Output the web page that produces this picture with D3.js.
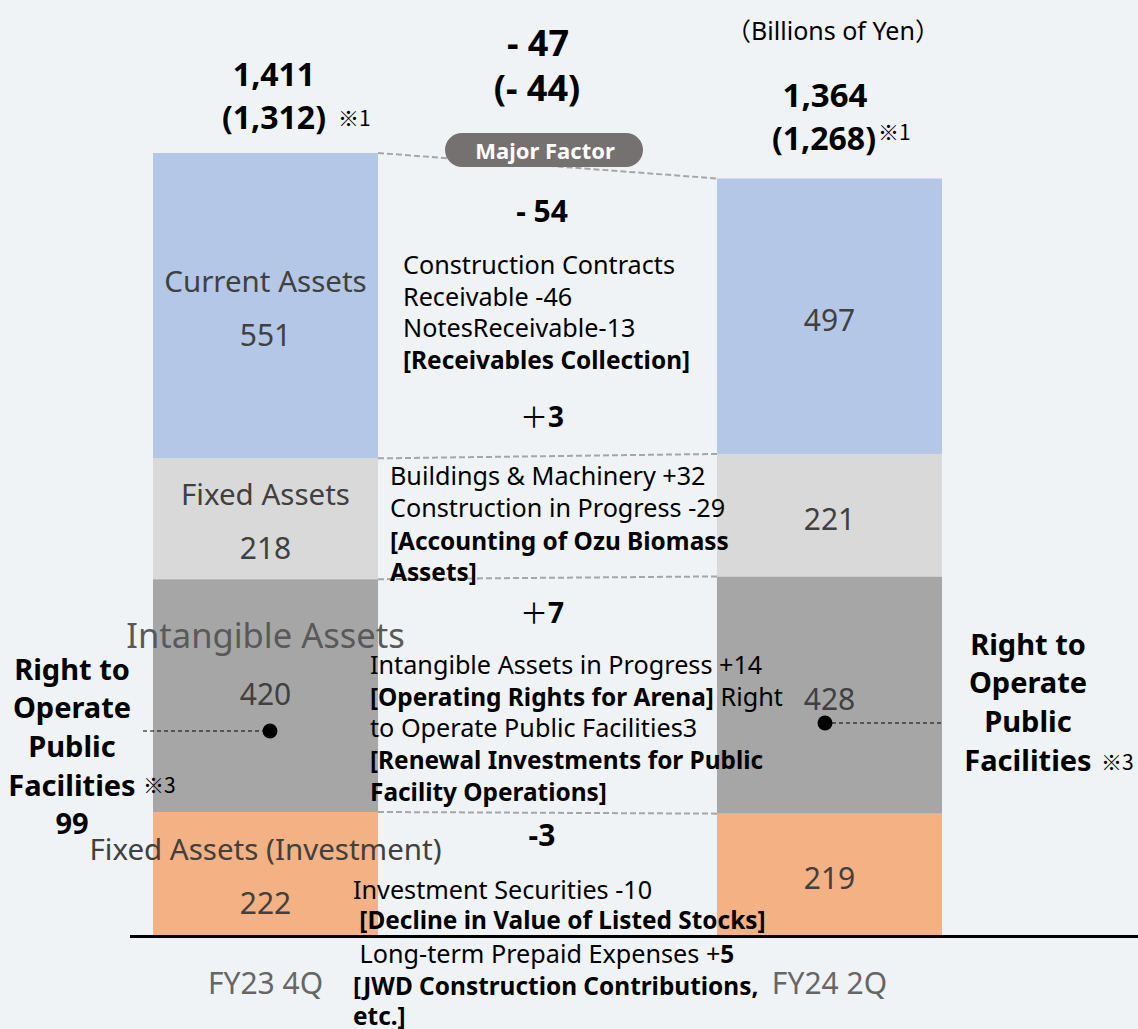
<!DOCTYPE html>
<html>
<head>
<meta charset="utf-8">
<script src="https://cdn.jsdelivr.net/npm/d3@7"></script>
<style>
  body { margin: 0; background: #eff3f5; }
  svg { display: block; font-family: "Noto Sans", "Open Sans", sans-serif; }
</style>
</head>
<body>
<div id="vis"></div>
<script>
// data
const PERIODS = ["FY23 4Q", "FY24 2Q"];
const CATEGORIES = ["Fixed Assets (Investment)", "Intangible Assets", "Fixed Assets", "Current Assets"]; // bottom -> top
const FY23_VALUES = [222, 420, 218, 551];
const FY24_VALUES = [219, 428, 221, 497];
const COLORS = ["#f4b183", "#a6a6a6", "#d9d9d9", "#b4c7e7"];
const TOTALS = ["1,411", "1,364"];
const TOTALS_ADJ = ["(1,312)", "(1,268)"];
const DIFF_TOTAL = ["- 47", "(- 44)"];
const DIFF_BY_CAT = ["-3", "＋7", "＋3", "- 54"]; // bottom -> top
const RIGHT_TO_OPERATE = "99";

// frame
const FRAME_WIDTH = 1138;
const FRAME_HEIGHT = 1029;
const BASE_Y = 935;
const TOP_Y = 153;
const CJK = "'Noto Sans CJK JP', 'Noto Sans', sans-serif";

const svg = d3.select("#vis")
  .append("svg")
  .attr("width", FRAME_WIDTH)
  .attr("height", FRAME_HEIGHT);

svg.append("rect").attr("width", FRAME_WIDTH).attr("height", FRAME_HEIGHT).attr("fill", "#eff3f5");

const rows = PERIODS.map((p, i) => {
  const vals = i === 0 ? FY23_VALUES : FY24_VALUES;
  const r = { period: p };
  CATEGORIES.forEach((c, j) => r[c] = vals[j]);
  return r;
});

const series = d3.stack().keys(CATEGORIES)(rows);

const X = d3.scaleBand().domain(PERIODS).range([153, 942]).paddingInner(0.601);
const Y = d3.scaleLinear().domain([0, d3.sum(FY23_VALUES)]).range([BASE_Y, TOP_Y]);
const COLOR = d3.scaleOrdinal().domain(CATEGORIES).range(COLORS);

// bars
svg.append("g").selectAll("g")
  .data(series)
  .join("g")
  .attr("fill", d => COLOR(d.key))
  .selectAll("rect")
  .data(d => d)
  .join("rect")
  .attr("x", d => X(d.data.period))
  .attr("y", d => Y(d[1]))
  .attr("width", X.bandwidth())
  .attr("height", d => Y(d[0]) - Y(d[1]));

// dashed connectors between bars at each segment boundary
const leftEdge = X(PERIODS[0]) + X.bandwidth();
const rightEdge = X(PERIODS[1]);
svg.append("g").selectAll("line")
  .data(series)
  .join("line")
  .attr("x1", leftEdge)
  .attr("x2", rightEdge)
  .attr("y1", d => Y(d[0][1]))
  .attr("y2", d => Y(d[1][1]))
  .attr("stroke", "#a6a6a6")
  .attr("stroke-width", 2)
  .attr("stroke-dasharray", "6,3");

// axis line
svg.append("line")
  .attr("x1", 130).attr("x2", FRAME_WIDTH)
  .attr("y1", BASE_Y + 1.5).attr("y2", BASE_Y + 1.5)
  .attr("stroke", "#000").attr("stroke-width", 3);

// x labels
svg.append("g").selectAll("text")
  .data(PERIODS)
  .join("text")
  .attr("x", d => X(d) + X.bandwidth() / 2)
  .attr("y", 982)
  .attr("text-anchor", "middle")
  .attr("dominant-baseline", "central")
  .attr("font-size", 30)
  .attr("fill", "#666666")
  .text(d => d);

// segment labels
series.forEach((s) => {
  s.forEach((d, i) => {
    const cx = X(d.data.period) + X.bandwidth() / 2;
    const cy = (Y(d[0]) + Y(d[1])) / 2;
    const isIntang = s.key === "Intangible Assets";
    if (i === 0) {
      svg.append("text")
        .attr("x", cx).attr("y", isIntang ? cy - 61 : cy - 25)
        .attr("text-anchor", "middle").attr("dominant-baseline", "central")
        .attr("font-size", isIntang ? 34.5 : 29.5)
        .attr("fill", isIntang ? "#595959" : "#404040")
        .text(s.key);
    }
    svg.append("text")
      .attr("x", cx).attr("y", i === 0 ? (isIntang ? cy - 2 : cy + 29) : cy + 3)
      .attr("text-anchor", "middle").attr("dominant-baseline", "central")
      .attr("font-size", 30)
      .attr("fill", "#404040")
      .text(d[1] - d[0]);
  });
});

// totals above bars, notes placed right after the measured text
function boldText(cx, y, str, size) {
  return svg.append("text")
    .attr("x", cx).attr("y", y)
    .attr("text-anchor", "middle").attr("dominant-baseline", "central")
    .attr("font-size", size).attr("font-weight", "bold").attr("fill", "#000")
    .text(str);
}
function note(t, gap, y, str) {
  const b = t.node().getBBox();
  svg.append("text")
    .attr("x", b.x + b.width + gap).attr("y", y)
    .attr("dominant-baseline", "central")
    .attr("font-size", 21).attr("fill", "#000")
    .style("font-family", CJK)
    .text(str);
}
boldText(274, 73, TOTALS[0], 32);
note(boldText(274, 116, TOTALS_ADJ[0], 32), 12, 117, "※1");
boldText(825, 94, TOTALS[1], 33);
note(boldText(824, 137, TOTALS_ADJ[1], 32), 2, 131, "※1");
boldText(538, 42, DIFF_TOTAL[0], 36);
boldText(537, 87, DIFF_TOTAL[1], 36);

const unit = svg.append("text")
  .attr("x", 833).attr("y", 30)
  .attr("text-anchor", "middle").attr("dominant-baseline", "central")
  .attr("font-size", 25).attr("fill", "#000");
unit.append("tspan").style("font-family", CJK).text("（");
unit.append("tspan").text("Billions of Yen");
unit.append("tspan").style("font-family", CJK).text("）");

// major factor pill
svg.append("rect")
  .attr("x", 445).attr("y", 133).attr("width", 198).attr("height", 34)
  .attr("rx", 17).attr("fill", "#767171");
svg.append("text")
  .attr("x", 545).attr("y", 150)
  .attr("text-anchor", "middle").attr("dominant-baseline", "central")
  .attr("font-size", 22).attr("font-weight", "bold").attr("fill", "#fff")
  .text("Major Factor");

// per-category differences
const DIFF_Y = [834, 612, 416, 210];
DIFF_BY_CAT.forEach((d, i) => {
  const t = svg.append("text")
    .attr("x", 542).attr("y", DIFF_Y[i])
    .attr("text-anchor", "middle").attr("dominant-baseline", "central")
    .attr("font-size", 30).attr("font-weight", "bold").attr("fill", "#000");
  if (d[0] === "＋") {
    t.attr("font-size", 28);
    t.append("tspan").attr("font-weight", "normal").style("font-family", CJK).text("＋");
    t.append("tspan").text(d.slice(1));
  } else t.text(d);
});

// factor descriptions: [text, bold]
const FACTORS_CURRENT = [
  [["Construction Contracts", 0]],
  [["Receivable -46", 0]],
  [["NotesReceivable-13", 0]],
  [["[Receivables Collection]", 1]]
];
const FACTORS_FIXED = [
  [["Buildings & Machinery +32", 0]],
  [["Construction in Progress -29", 0]],
  [["[Accounting of Ozu Biomass", 1]],
  [["Assets]", 1]]
];
const FACTORS_INTANG = [
  [["Intangible Assets in Progress +14", 0]],
  [["[Operating Rights for Arena]", 1], [" Right", 0]],
  [["to Operate Public Facilities3", 0]],
  [["[Renewal Investments for Public", 1]],
  [["Facility Operations]", 1]]
];
const FACTORS_INVEST = [
  [["Investment Securities -10", 0]],
  [["\u00a0[Decline in Value of Listed Stocks]", 1]],
  [["\u00a0Long-term Prepaid Expenses +", 0], ["5", 1]],
  [["[JWD Construction Contributions,", 1]],
  [["etc.]", 1]]
];

function block(lines, x, ys) {
  lines.forEach((segs, i) => {
    const t = svg.append("text")
      .attr("x", x).attr("y", ys[i])
      .attr("dominant-baseline", "central")
      .attr("fill", "#000")
      .style("white-space", "pre");
    segs.forEach(s => t.append("tspan")
      .attr("font-weight", s[1] ? "bold" : "normal")
      .attr("font-size", s[1] ? 24.4 : 25.2)
      .text(s[0]));
  });
}
block(FACTORS_CURRENT, 403, [264, 296, 327, 359]);
block(FACTORS_FIXED, 390, [475, 507, 540, 571]);
block(FACTORS_INTANG, 370, [664, 696, 727, 759, 791]);
block(FACTORS_INVEST, 353, [889, 919, 953, 985, 1015]);

// right to operate public facilities callouts
const RTO_LINES = ["Right to", "Operate", "Public", "Facilities"];
function rto(cx, y0, extra) {
  RTO_LINES.concat(extra ? [extra] : []).forEach((l, i) => {
    svg.append("text")
      .attr("x", cx).attr("y", y0 + i * 38.7)
      .attr("text-anchor", "middle").attr("dominant-baseline", "central")
      .attr("font-size", 29).attr("font-weight", "bold").attr("fill", "#000")
      .text(l);
  });
}
rto(72, 668, RIGHT_TO_OPERATE);
rto(1028, 643);
[[143, 784], [1101, 761]].forEach(p => {
  svg.append("text").attr("x", p[0]).attr("y", p[1])
    .attr("dominant-baseline", "central").attr("font-size", 21).attr("fill", "#000")
    .style("font-family", CJK).text("※3");
});

const DOTS = [{ x1: 143, x2: 270, y: 731, dot: 270 }, { x1: 825, x2: 943, y: 723, dot: 825 }];
svg.append("g").selectAll("line").data(DOTS).join("line")
  .attr("x1", d => d.x1).attr("x2", d => d.x2)
  .attr("y1", d => d.y).attr("y2", d => d.y)
  .attr("stroke", "#000").attr("stroke-width", 1.2).attr("stroke-dasharray", "4,3");
svg.append("g").selectAll("circle").data(DOTS).join("circle")
  .attr("cx", d => d.dot).attr("cy", d => d.y).attr("r", 7.5).attr("fill", "#000");
</script>
</body>
</html>
